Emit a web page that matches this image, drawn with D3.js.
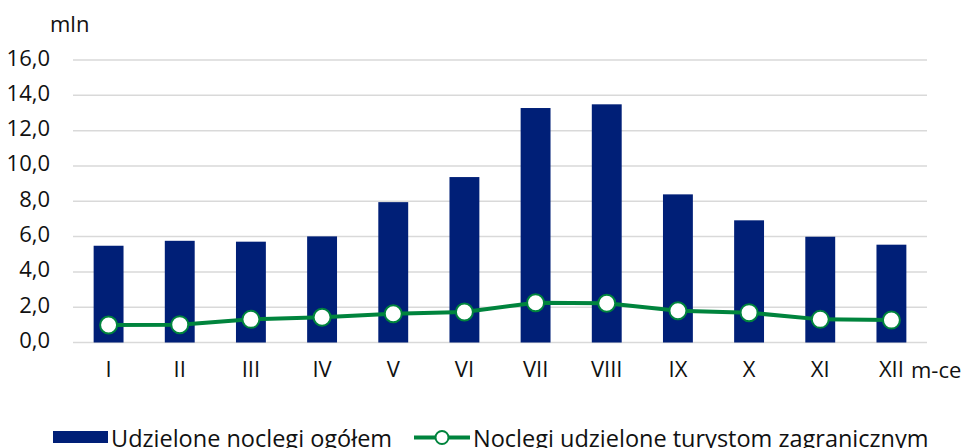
<!DOCTYPE html>
<html>
<head>
<meta charset="utf-8">
<script src="https://cdn.jsdelivr.net/npm/d3@7"></script>
<style>
  body { margin: 0; background: #fff; }
  svg text { font-family: "Open Sans", sans-serif; fill: #111; }
</style>
</head>
<body>
<svg id="chart" width="965" height="448"></svg>
<script>
var months = ["I", "II", "III", "IV", "V", "VI", "VII", "VIII", "IX", "X", "XI", "XII"];
var ogolem = [5.48, 5.76, 5.71, 6.01, 7.95, 9.37, 13.28, 13.49, 8.39, 6.92, 5.99, 5.54];
var zagraniczni = [0.99, 1.01, 1.31, 1.43, 1.63, 1.73, 2.25, 2.22, 1.80, 1.69, 1.31, 1.27];
var yTicks = [0, 2, 4, 6, 8, 10, 12, 14, 16];
var seriesNames = ["Udzielone noclegi ogółem", "Noclegi udzielone turystom zagranicznym"];

var navy = "#001f77";
var green = "#00843d";

var svg = d3.select("#chart");

var plotLeft = 73, plotRight = 927, plotTop = 60, plotBottom = 342.5;

var x = d3.scaleBand()
	.domain(months)
	.range([plotLeft, plotRight])
	.paddingInner(0.58)
	.paddingOuter(0.29);

var y = d3.scaleLinear()
	.domain([0, 16])
	.range([plotBottom, plotTop]);

// gridlines
svg.append("g")
	.selectAll("line")
	.data(yTicks)
	.enter()
	.append("line")
		.attr("x1", plotLeft)
		.attr("x2", plotRight)
		.attr("y1", function(d) { return y(d); })
		.attr("y2", function(d) { return y(d); })
		.attr("stroke", "#d9d9d9")
		.attr("stroke-width", 1.5);

// y axis labels
var yAxis = d3.axisLeft(y)
	.tickValues(yTicks)
	.tickSize(0)
	.tickPadding(0)
	.tickFormat(function(d) { return d3.format(".1f")(d).replace(".", ","); });

var gy = svg.append("g")
	.attr("transform", "translate(50,-2)")
	.call(yAxis);
gy.select(".domain").remove();
gy.attr("font-size", 22).attr("font-family", null);

svg.append("text")
	.attr("x", 50)
	.attr("y", 32)
	.attr("font-size", 22)
	.text("mln");

// bars
svg.append("g")
	.selectAll("rect")
	.data(ogolem)
	.enter()
	.append("rect")
		.attr("x", function(d, i) { return x(months[i]); })
		.attr("y", function(d) { return y(d); })
		.attr("width", x.bandwidth())
		.attr("height", function(d) { return y(0) - y(d); })
		.attr("fill", navy);

// x axis labels
var xAxis = d3.axisBottom(x)
	.tickSize(0)
	.tickPadding(0);

var gx = svg.append("g")
	.attr("transform", "translate(0,361)")
	.call(xAxis);
gx.select(".domain").remove();
gx.attr("font-size", 22).attr("font-family", null);

svg.append("text")
	.attr("x", 911)
	.attr("y", 378)
	.attr("font-size", 22)
	.text("m-ce");

// line
var cx = function(d, i) { return x(months[i]) + x.bandwidth() / 2; };

var line = d3.line()
	.x(cx)
	.y(function(d) { return y(d); });

svg.append("path")
	.datum(zagraniczni)
	.attr("d", line)
	.attr("fill", "none")
	.attr("stroke", green)
	.attr("stroke-width", 4);

svg.append("g")
	.selectAll("circle")
	.data(zagraniczni)
	.enter()
	.append("circle")
		.attr("cx", cx)
		.attr("cy", function(d) { return y(d); })
		.attr("r", 8.5)
		.attr("fill", "#fff")
		.attr("stroke", green)
		.attr("stroke-width", 2);

// legend
var legend = svg.append("g");

legend.append("rect")
	.attr("x", 53)
	.attr("y", 431)
	.attr("width", 55)
	.attr("height", 12)
	.attr("fill", navy);

legend.append("text")
	.attr("x", 111)
	.attr("y", 447)
	.attr("font-size", 23.5)
	.text(seriesNames[0]);

legend.append("line")
	.attr("x1", 414)
	.attr("x2", 470)
	.attr("y1", 437.5)
	.attr("y2", 437.5)
	.attr("stroke", green)
	.attr("stroke-width", 4);

legend.append("circle")
	.attr("cx", 442)
	.attr("cy", 437.5)
	.attr("r", 6.5)
	.attr("fill", "#fff")
	.attr("stroke", green)
	.attr("stroke-width", 2);

legend.append("text")
	.attr("x", 473)
	.attr("y", 447)
	.attr("font-size", 23.5)
	.text(seriesNames[1]);
</script>
</body>
</html>
